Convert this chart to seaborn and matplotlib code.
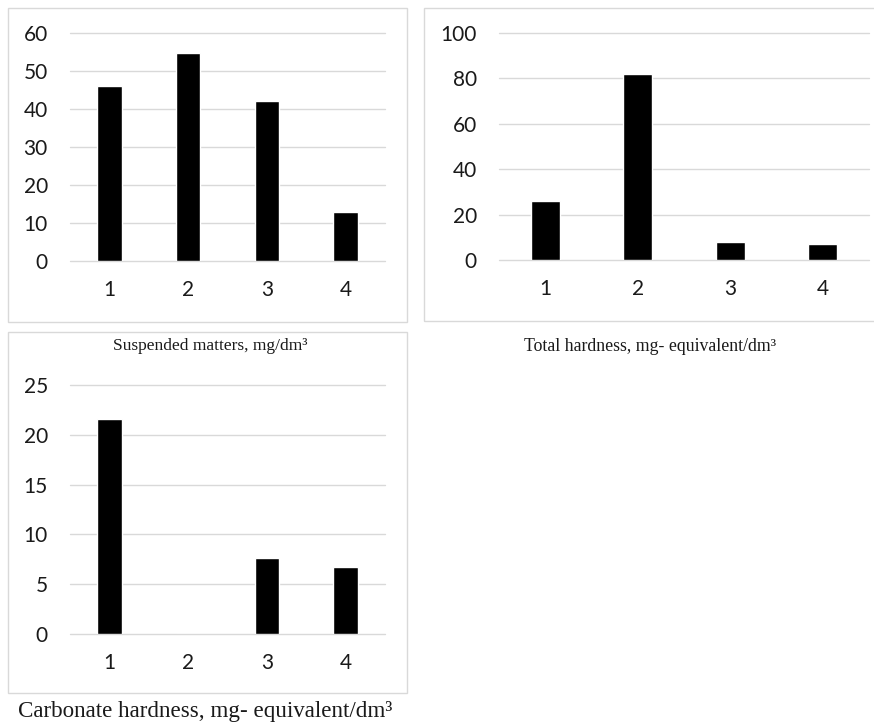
import matplotlib
matplotlib.use("Agg")
import matplotlib.pyplot as plt
from matplotlib.patches import Rectangle
import pandas as pd
import seaborn as sns

# values
sites = ["1", "2", "3", "4"]
suspended = [46.1, 54.7, 42.0, 12.8]
total_hardness = [26.0, 81.8, 7.9, 7.0]
carbonate_hardness = [21.6, 0.0, 7.65, 6.7]

captions = [
    "Suspended matters, mg/dm\u00b3",
    "Total hardness, mg- equivalent/dm\u00b3",
    "Carbonate hardness, mg- equivalent/dm\u00b3",
]
ylims = [(0, 60), (0, 100), (0, 25)]
ysteps = [10, 20, 5]

sns.set_style("white")
plt.rcParams["font.family"] = ["Lato", "DejaVu Sans"]

W, H = 874, 724
fig = plt.figure(figsize=(W / 100, H / 100), dpi=100)


def px_box(x0, y0, x1, y1):
    # pixel rectangle (top-left origin) -> figure fraction [l, b, w, h]
    return [x0 / W, 1 - y1 / H, (x1 - x0) / W, (y1 - y0) / H]


panels = [
    (suspended, px_box(70, 33, 385, 261), (8, 8, 407, 322), (210, 346), 12.5),
    (total_hardness, px_box(499, 33, 869, 260), (424, 8, 880, 321), (650, 346), 12.8),
    (carbonate_hardness, px_box(70, 385, 385, 634), (8, 332, 407, 693), (205, 711), 16.6),
]

for i, (vals, pos, frame, cap, capsize) in enumerate(panels):
    # light frame around each chart
    fx = px_box(*frame)
    fig.patches.append(Rectangle((fx[0], fx[1]), fx[2], fx[3], transform=fig.transFigure,
                                 fill=False, edgecolor="#d9d9d9", linewidth=1.0))
    ax = fig.add_axes(pos)
    df = pd.DataFrame({"site": sites, "value": vals})
    sns.barplot(data=df, x="site", y="value", color="black", width=0.31,
                saturation=1, ax=ax, zorder=3)
    lo, hi = ylims[i]
    ax.set_ylim(lo, hi)
    ax.set_xlim(-0.5, 3.5)
    ax.set_yticks(range(lo, hi + 1, ysteps[i]))
    ax.yaxis.grid(True, color="#d9d9d9", linewidth=1.0, zorder=0)
    for gl in ax.get_ygridlines():
        gl.set_clip_on(False)
    ax.set_axisbelow(True)
    for s in ax.spines.values():
        s.set_visible(False)
    ax.set_xlabel("")
    ax.set_ylabel("")
    ax.tick_params(axis="both", length=0, labelsize=15, labelcolor="#1a1a1a")
    ax.tick_params(axis="x", pad=14)
    ax.tick_params(axis="y", pad=16)
    fig.text(cap[0] / W, 1 - cap[1] / H, captions[i], ha="center", va="center",
             fontsize=capsize, family=["Liberation Serif", "DejaVu Serif"], color="#1a1a1a")

fig.savefig("out.png", dpi=100)
